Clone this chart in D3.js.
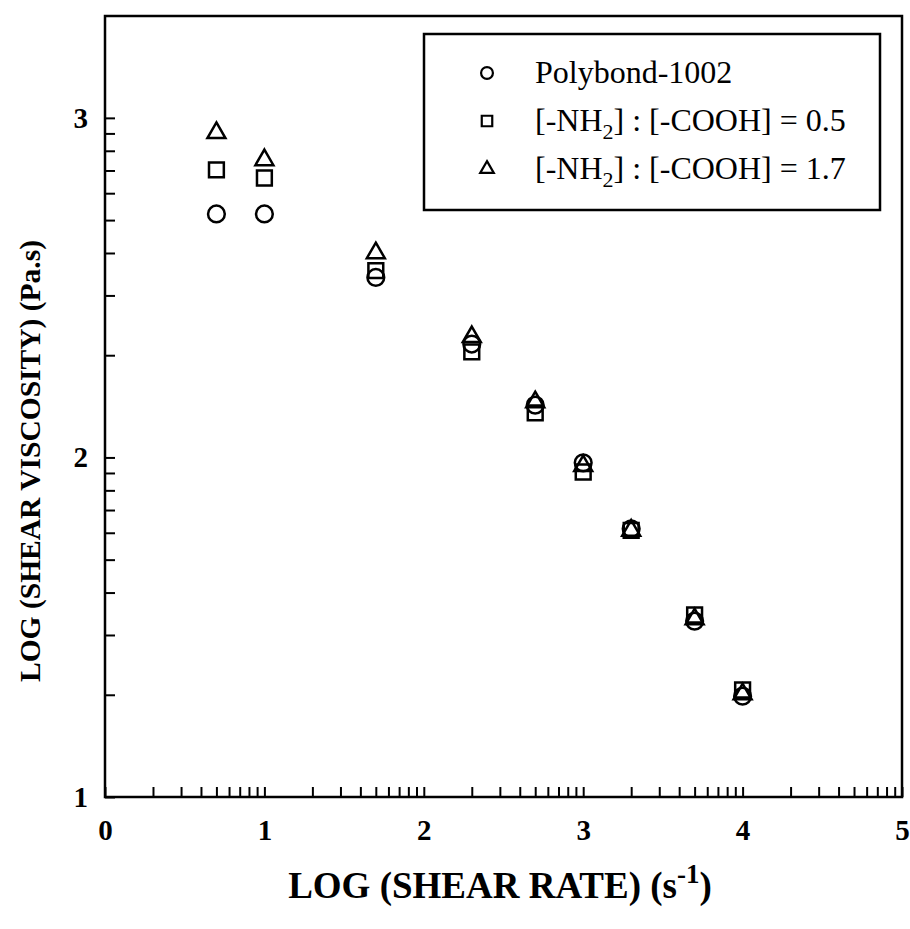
<!DOCTYPE html>
<html>
<head>
<meta charset="utf-8">
<script src="https://cdn.jsdelivr.net/npm/d3@7"></script>
<style>
  html, body { margin: 0; padding: 0; background: #fff; }
  svg text { font-family: "Liberation Serif", "Times New Roman", Times, serif !important; }
</style>
</head>
<body>
<svg id="chart" width="910" height="929"></svg>
<script>
// log shear rate (s^-1)
const shearRate = [0.699, 1.0, 1.699, 2.301, 2.699, 3.0, 3.301, 3.699, 4.0];

// log shear viscosity (Pa.s) per series
const polybond = [2.717, 2.717, 2.53, 2.334, 2.154, 1.984, 1.79, 1.518, 1.297];
const ratio05 = [2.847, 2.823, 2.55, 2.311, 2.131, 1.957, 1.785, 1.536, 1.315];
const ratio17 = [2.956, 2.876, 2.602, 2.355, 2.163, 1.975, 1.785, 1.524, 1.303];

const xTicks = [0, 1, 2, 3, 4, 5];
const yTicks = [1, 2, 3];

const series = [
    { name: 'Polybond-1002', symbol: d3.symbolCircle, values: polybond },
    { name: 'ratio 0.5', symbol: d3.symbolSquare, values: ratio05, legend: '0.5' },
    { name: 'ratio 1.7', symbol: d3.symbolTriangle, values: ratio17, legend: '1.7' },
];

const svg = d3.select('#chart');

const LEFT = 105, RIGHT = 902, TOP = 16, BOTTOM = 797;

const xScale = d3.scaleLinear().domain([0, 5]).range([LEFT, RIGHT]);
const yScale = d3.scaleLinear().domain([1, 3.3]).range([BOTTOM, TOP]);

// log-style minor ticks inside each unit
const minorTicks = (lo, hi) => {
    const out = [];
    for (let n = Math.floor(lo); n < hi; n++) {
        for (let k = 2; k <= 9; k++) {
            const v = n + Math.log10(k);
            if (v > lo && v < hi) out.push(v);
        }
    }
    return out;
};

// frame
svg.append('rect')
    .attr('x', LEFT).attr('y', TOP)
    .attr('width', RIGHT - LEFT).attr('height', BOTTOM - TOP)
    .style('fill', 'none').style('stroke', '#000').style('stroke-width', 2.5);

const styleAxis = (g) => {
    g.attr('font-family', null);
    g.select('.domain').remove();
    g.selectAll('line').style('stroke', '#000').style('stroke-width', 2);
    g.selectAll('text')
        .style('font-size', '29px')
        .style('font-weight', 'bold')
        .style('fill', '#000');
};

// x axis
svg.append('g')
    .attr('transform', `translate(0,${BOTTOM})`)
    .call(d3.axisBottom(xScale).tickValues(minorTicks(0, 5)).tickSize(-10).tickFormat(''))
    .call(styleAxis);
svg.append('g')
    .attr('transform', `translate(0,${BOTTOM})`)
    .call(d3.axisBottom(xScale).tickValues(xTicks).tickSize(-10).tickPadding(22).tickFormat(d3.format('d')))
    .call(styleAxis);

// y axis
svg.append('g')
    .attr('transform', `translate(${LEFT},0)`)
    .call(d3.axisLeft(yScale).tickValues(minorTicks(1, 3.3)).tickSize(-10).tickFormat(''))
    .call(styleAxis);
svg.append('g')
    .attr('transform', `translate(${LEFT},0)`)
    .call(d3.axisLeft(yScale).tickValues(yTicks).tickSize(-10).tickPadding(17).tickFormat(d3.format('d')))
    .call(styleAxis);

// points
const sizeFor = (s) => s === d3.symbolCircle ? 220 : s === d3.symbolSquare ? 220 : 140;

series.forEach((s) => {
    svg.append('g')
        .selectAll('path')
        .data(s.values.map((v, i) => ({ x: shearRate[i], y: v })))
        .join('path')
        .attr('transform', d => `translate(${xScale(d.x)},${yScale(d.y)})`)
        .attr('d', d3.symbol(s.symbol, sizeFor(s.symbol)))
        .style('fill', 'none')
        .style('stroke', '#000')
        .style('stroke-width', 2.5);
});

// legend
const legend = svg.append('g').attr('transform', 'translate(424,34)');
legend.append('rect')
    .attr('width', 456).attr('height', 176)
    .style('fill', '#fff').style('stroke', '#000').style('stroke-width', 2.5);

const rows = legend.selectAll('g.row')
    .data(series)
    .join('g')
    .attr('class', 'row')
    .attr('transform', (_d, i) => `translate(63,${39 + i * 48})`);

rows.append('path')
    .attr('d', d => d3.symbol(d.symbol, d.symbol === d3.symbolTriangle ? 80 : 110)())
    .style('fill', 'none').style('stroke', '#000').style('stroke-width', 2.2);

const labels = rows.append('text')
    .attr('x', 48).attr('y', 10)
    .style('font-size', '32px')
    .style('fill', '#000');

labels.each(function (d) {
    const t = d3.select(this);
    if (!d.legend) {
        t.text(d.name);
        return;
    }
    t.append('tspan').text('[-NH');
    t.append('tspan').attr('dy', 8).style('font-size', '22px').text('2');
    t.append('tspan').attr('dy', -8).text(`] : [-COOH] = ${d.legend}`);
});

// axis titles
svg.append('text')
    .attr('x', 500).attr('y', 898)
    .attr('text-anchor', 'middle')
    .style('font-size', '37px').style('font-weight', 'bold')
    .call(t => {
        t.append('tspan').text('LOG (SHEAR RATE) (s');
        t.append('tspan').attr('dy', -15).style('font-size', '27px').text('-1');
        t.append('tspan').attr('dy', 15).text(')');
    });

svg.append('text')
    .attr('transform', 'translate(40,461) rotate(-90)')
    .attr('text-anchor', 'middle')
    .style('font-size', '29.5px').style('font-weight', 'bold')
    .text('LOG (SHEAR VISCOSITY) (Pa.s)');
</script>
</body>
</html>
